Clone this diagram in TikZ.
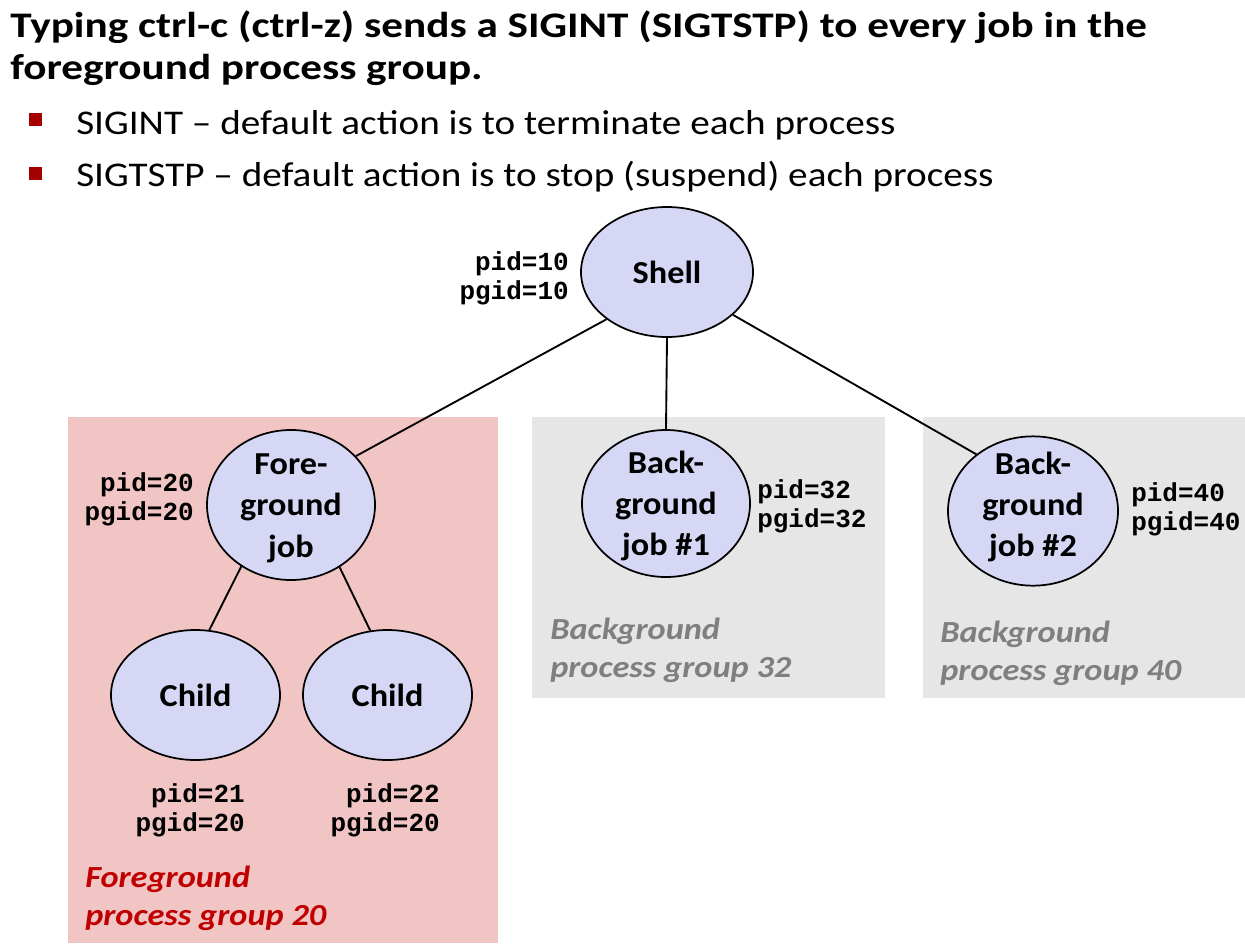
\documentclass[tikz,border=0pt]{standalone}
\usepackage{fontspec}
\setmainfont{Carlito}
\newfontfamily\cour{Liberation Mono}
\newfontfamily\titlefont[FakeStretch=1.2]{Carlito}
\newfontfamily\bulletfont[FakeStretch=1.13]{Carlito}
\newfontfamily\nodefont[FakeStretch=1.07]{Carlito}
\newfontfamily\grpfont[FakeStretch=1.12]{Carlito}
\usetikzlibrary{shapes.geometric}
\definecolor{procfill}{RGB}{214,215,245}
\definecolor{fgbox}{RGB}{242,197,197}
\definecolor{bgbox}{RGB}{230,230,230}
\definecolor{fgred}{RGB}{192,0,0}
\definecolor{bggray}{RGB}{127,127,127}
\definecolor{bulletred}{RGB}{165,0,0}
\tikzset{
  proc/.style={ellipse, draw=black, line width=1.3pt, fill=procfill, inner sep=0pt},
  proctext/.style={font=\fontsize{24}{31}\selectfont\nodefont\bfseries, align=center, inner sep=0pt},
  idlabel/.style={font=\fontsize{19.5}{22}\selectfont\cour\bfseries, inner sep=0pt},
  grouplabel/.style={font=\fontsize{23}{28.5}\selectfont\grpfont\bfseries\itshape, align=left, inner sep=0pt, anchor=base west},
  conn/.style={line width=1.4pt, draw=black},
  bullettext/.style={font=\fontsize{26}{30}\selectfont\bulletfont, inner sep=0pt, anchor=base west},
  bulletmark/.style={fill=bulletred, draw=none, minimum size=9.75pt, inner sep=0pt}
}
\begin{document}
\begin{tikzpicture}[x=0.75pt,y=-0.75pt]
\useasboundingbox (0,0) rectangle (1245,943);
% group boxes
\fill[fgbox] (68,417) rectangle (498,943);
\fill[bgbox] (532,417) rectangle (885,698);
\fill[bgbox] (923,417) rectangle (1245,698);
% title
\node[font=\fontsize{27}{31.5}\selectfont\titlefont\bfseries, align=left, inner sep=0pt, anchor=base west] (title) at (10,79)
  {Typing ctrl-c (ctrl-z) sends a SIGINT (SIGTSTP) to every job in the\\foreground process group.};
\node[bulletmark] (b1) at (35.5,119.5) {};
\node[bullettext] (t1) at (76,134) {SIGINT – default action is to terminate each process};
\node[bulletmark] (b2) at (35.5,173) {};
\node[bullettext] (t2) at (76,186) {SIGTSTP – default action is to stop (suspend) each process};
% processes
\node[proc, minimum width=129pt, minimum height=97.5pt] (shell) at (667,272) {};
\node[proctext] at (shell) {Shell};
\node[proc, minimum width=126pt, minimum height=112.5pt] (fg) at (291,505) {};
\node[proctext] at (291,508) {Fore-\\ground\\job};
\node[proc, minimum width=126.75pt, minimum height=97.5pt] (c1) at (195.5,695) {};
\node[proctext] at (c1) {Child};
\node[proc, minimum width=126.75pt, minimum height=97.5pt] (c2) at (387.5,695) {};
\node[proctext] at (c2) {Child};
\node[proc, minimum width=126pt, minimum height=110.25pt] (bg1) at (666,503.5) {};
\node[proctext] at (666,506) {Back-\\ground\\job \#1};
\node[proc, minimum width=127.5pt, minimum height=112pt] (bg2) at (1033,511) {};
\node[proctext] at (1033,507) {Back-\\ground\\job \#2};
% connectors
\draw[conn] (shell.218.7) -- (fg.37.6);
\draw[conn] (shell.270) -- (bg1.90);
\draw[conn] (shell.327.5) -- (bg2.135);
\draw[conn] (fg.231) -- (c1.78);
\draw[conn] (fg.308) -- (c2.105.5);
% id labels
\node[idlabel, align=right, anchor=east] (id10) at (569,278) {pid=10\\pgid=10};
\node[idlabel, align=right, anchor=east] (id20) at (194,499) {pid=20\\pgid=20};
\node[idlabel, align=right, anchor=east] (id21) at (245,810) {pid=21\\pgid=20};
\node[idlabel, align=right, anchor=east] (id22) at (440,810) {pid=22\\pgid=20};
\node[idlabel, align=left, anchor=west] (id32) at (757,506) {pid=32\\pgid=32};
\node[idlabel, align=left, anchor=west] (id40) at (1131,509) {pid=40\\pgid=40};
% group labels
\node[grouplabel, text=fgred] (g20) at (85,925) {Foreground\\process group 20};
\node[grouplabel, text=bggray] (g32) at (550,677) {Background\\process group 32};
\node[grouplabel, text=bggray] (g40) at (940,680) {Background\\process group 40};
\end{tikzpicture}
\end{document}
